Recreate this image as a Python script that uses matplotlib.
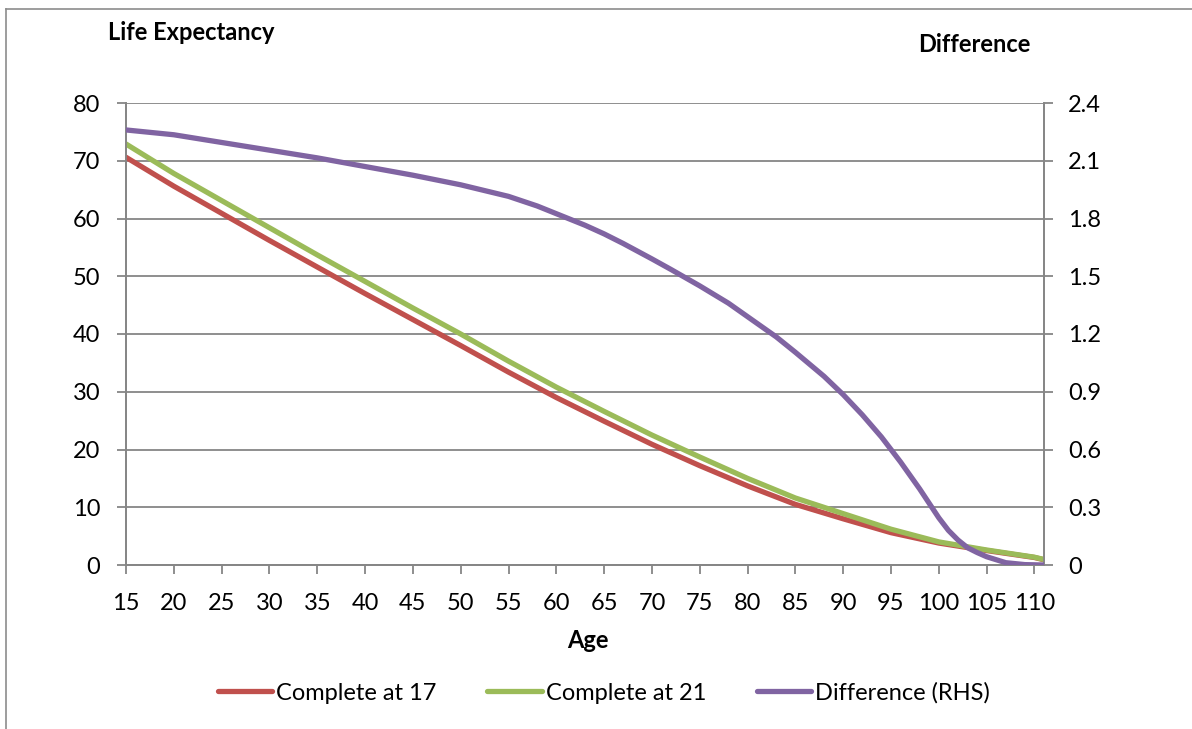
import matplotlib
matplotlib.use("Agg")
import matplotlib.pyplot as plt
from matplotlib.lines import Line2D

plt.rcParams['font.family'] = ['Lato', 'DejaVu Sans']

# ---- data ----
ages = [15, 20, 25, 30, 35, 40, 45, 50, 55, 60, 65, 70, 75, 80, 85, 90, 95, 100, 105, 110, 111]
complete_17 = [70.6, 65.6, 60.9, 56.2, 51.6, 47.0, 42.5, 38.0, 33.4, 29.0, 24.9, 20.9, 17.2,
               13.7, 10.5, 8.0, 5.6, 3.8, 2.5, 1.3, 0.9]
complete_21 = [72.9, 67.8, 63.1, 58.4, 53.7, 49.1, 44.5, 40.0, 35.3, 30.8, 26.6, 22.5, 18.7,
               15.0, 11.6, 8.9, 6.2, 4.0, 2.6, 1.35, 0.95]
diff_ages = [15, 20, 25, 30, 35, 40, 45, 50, 55, 58, 60, 63, 65, 67, 70, 72, 75, 78, 80, 83,
             85, 88, 90, 92, 94, 96, 98, 99, 100, 101, 102, 103, 104, 105, 107, 109, 111]
difference = [2.26, 2.235, 2.195, 2.155, 2.115, 2.07, 2.025, 1.975, 1.915, 1.865, 1.825, 1.765,
              1.72, 1.67, 1.59, 1.535, 1.45, 1.36, 1.29, 1.185, 1.105, 0.98, 0.885, 0.78,
              0.665, 0.535, 0.395, 0.32, 0.245, 0.18, 0.13, 0.09, 0.065, 0.043, 0.012, 0.002,
              0.0]
x_ticks = list(range(15, 111, 5))
left_ticks = [0, 10, 20, 30, 40, 50, 60, 70, 80]
right_ticks = [0, 0.3, 0.6, 0.9, 1.2, 1.5, 1.8, 2.1, 2.4]
right_labels = ['0', '0.3', '0.6', '0.9', '1.2', '1.5', '1.8', '2.1', '2.4']

RED = '#C0504D'
GREEN = '#9BBB59'
PURPLE = '#8064A2'
GRID = '#868686'
FS = 17

W, H = 1192, 729
fig = plt.figure(figsize=(W / 100, H / 100), dpi=100)

left, right, top, bottom = 126, 1044, 103, 565
ax = fig.add_axes([left / W, 1 - bottom / H, (right - left) / W, (bottom - top) / H])
ax2 = ax.twinx()

lw = 3.8
ax.plot(ages, complete_17, color=RED, lw=lw, solid_capstyle='round',
        solid_joinstyle='round', zorder=3)
ax.plot(ages, complete_21, color=GREEN, lw=lw, solid_capstyle='round',
        solid_joinstyle='round', zorder=4)
ax2.plot(diff_ages, difference, color=PURPLE, lw=lw, solid_capstyle='round',
         solid_joinstyle='round', zorder=5)

ax.set_xlim(15, 111)
ax.set_ylim(0, 80)
ax2.set_ylim(0, 2.4)

ax.set_xticks(x_ticks)
ax.set_xticklabels([str(t) for t in x_ticks])
ax.set_yticks(left_ticks)
ax.set_yticklabels([str(t) for t in left_ticks])
ax2.set_yticks(right_ticks)
ax2.set_yticklabels(right_labels)

ax.grid(axis='y', color=GRID, lw=1.3)
ax.set_axisbelow(True)

for a in (ax, ax2):
    a.spines['top'].set_visible(False)
    for s in ('left', 'right', 'bottom'):
        a.spines[s].set_color(GRID)
        a.spines[s].set_linewidth(1.3)

ax.tick_params(axis='both', colors=GRID, labelcolor='black', labelsize=FS, width=1.3,
               length=6.5, direction='out')
ax.tick_params(axis='y', pad=12)
ax.tick_params(axis='x', pad=14)
ax2.tick_params(axis='y', colors=GRID, labelcolor='black', labelsize=FS, width=1.3,
                length=6.5, direction='out', pad=11)

fig.text(108 / W, 1 - 33 / H, 'Life Expectancy', fontsize=FS, fontweight='bold',
         ha='left', va='center')
fig.text(918 / W, 1 - 45 / H, 'Difference', fontsize=FS, fontweight='bold',
         ha='left', va='center')
fig.text(588 / W, 1 - 640 / H, 'Age', fontsize=FS, fontweight='bold',
         ha='center', va='center')

handles = [Line2D([], [], color=RED, lw=lw, solid_capstyle='round'),
           Line2D([], [], color=GREEN, lw=lw, solid_capstyle='round'),
           Line2D([], [], color=PURPLE, lw=lw, solid_capstyle='round')]
fig.legend(handles, ['Complete at 17', 'Complete at 21', 'Difference (RHS)'],
           loc='center', bbox_to_anchor=(604 / W, 1 - 693 / H), ncol=3, frameon=False,
           fontsize=FS, handlelength=2.3, handletextpad=0.17, columnspacing=2.15)

# chart border (cropped on right and bottom)
fig.add_artist(Line2D([6 / W, 6 / W], [0, 1 - 9 / H], color='#8c8c8c', lw=1.2,
                      transform=fig.transFigure))
fig.add_artist(Line2D([6 / W, 1], [1 - 9 / H, 1 - 9 / H], color='#8c8c8c', lw=1.2,
                      transform=fig.transFigure))

fig.savefig('out.png', dpi=100)
